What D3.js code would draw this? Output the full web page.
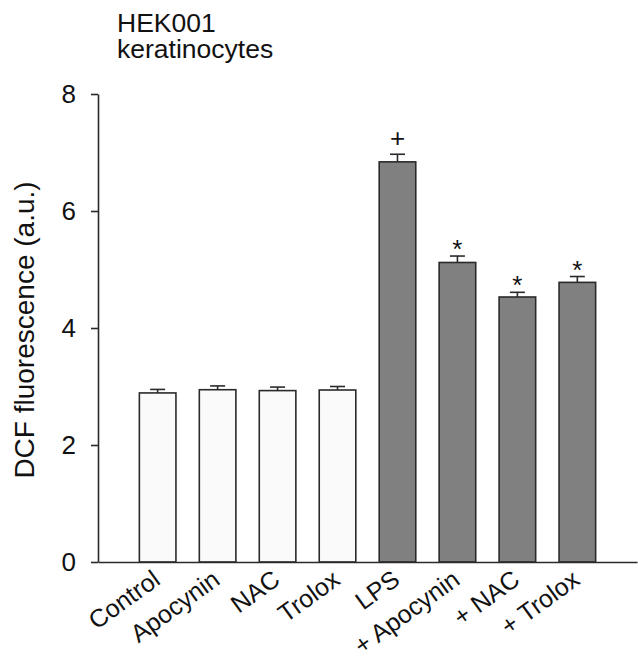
<!DOCTYPE html>
<html>
<head>
<meta charset="utf-8">
<script src="https://cdn.jsdelivr.net/npm/d3@7"></script>
<style>
  body { margin: 0; background: #fff; }
  text { font-family: "Liberation Sans", Arial, sans-serif; }
</style>
</head>
<body>
<div id="chart"></div>
<script>
// data
var categories = ["Control", "Apocynin", "NAC", "Trolox", "LPS", "+ Apocynin", "+ NAC", "+ Trolox"];
var means = [2.89, 2.945, 2.93, 2.94, 6.84, 5.12, 4.53, 4.78];
var errors = [0.06, 0.065, 0.06, 0.06, 0.13, 0.11, 0.08, 0.10];
var marks = ["", "", "", "", "+", "*", "*", "*"];
var groups = ["none", "none", "none", "none", "lps", "lps", "lps", "lps"];
var yTicks = [0, 2, 4, 6, 8];
var titleLines = ["HEK001", "keratinocytes"];

var width = 638, height = 661;
var fills = { none: "#fafafa", lps: "#808080" };
var ink = "#2a2a2a";

var svg = d3.select("#chart").append("svg")
  .attr("width", width)
  .attr("height", height);

var x = d3.scaleBand()
  .domain(categories)
  .range([98, 637])
  .paddingInner(0.39)
  .paddingOuter(0.69);

var y = d3.scaleLinear()
  .domain([0, 8])
  .range([562, 94]);

// title
svg.append("text")
  .attr("x", 117)
  .attr("y", 32)
  .attr("font-size", 26.5)
  .attr("fill", "#111")
  .selectAll("tspan")
  .data(titleLines)
  .enter().append("tspan")
  .attr("x", 117)
  .attr("dy", function(d, i) { return i == 0 ? 0 : 26; })
  .text(function(d) { return d; });

// bars
svg.append("g").selectAll("rect")
  .data(categories)
  .enter().append("rect")
  .attr("x", function(d) { return x(d); })
  .attr("y", function(d, i) { return y(means[i]); })
  .attr("width", x.bandwidth())
  .attr("height", function(d, i) { return y(0) - y(means[i]); })
  .attr("fill", function(d, i) { return fills[groups[i]]; })
  .attr("stroke", ink)
  .attr("stroke-width", 1.6);

// error bars (upper only)
var err = svg.append("g")
  .attr("stroke", ink)
  .attr("stroke-width", 1.6);
categories.forEach(function(c, i) {
  var cx = x(c) + x.bandwidth() / 2;
  err.append("line")
    .attr("x1", cx).attr("x2", cx)
    .attr("y1", y(means[i])).attr("y2", y(means[i] + errors[i]));
  err.append("line")
    .attr("x1", cx - 7.5).attr("x2", cx + 7.5)
    .attr("y1", y(means[i] + errors[i])).attr("y2", y(means[i] + errors[i]));
});

// significance marks
svg.append("g").selectAll("text")
  .data(categories)
  .enter().append("text")
  .attr("x", function(d) { return x(d) + x.bandwidth() / 2; })
  .attr("y", function(d, i) {
    var top = y(means[i] + errors[i]);
    return marks[i] == "+" ? top - 7 : top + 2;
  })
  .attr("text-anchor", "middle")
  .attr("font-size", 26)
  .attr("fill", "#111")
  .text(function(d, i) { return marks[i]; });

// y axis
var yAxis = svg.append("g")
  .attr("transform", "translate(98,0)")
  .call(d3.axisLeft(y).tickValues(yTicks).tickSize(7).tickSizeOuter(0).tickPadding(15)
    .tickFormat(d3.format("d")));
yAxis.select(".domain").attr("stroke", ink).attr("stroke-width", 1.6);
yAxis.selectAll(".tick line").attr("stroke", ink).attr("stroke-width", 1.6);
yAxis.selectAll(".tick text")
  .attr("font-size", 26)
  .attr("font-family", "Liberation Sans, Arial, sans-serif")
  .attr("fill", "#111");

// x baseline and category labels
var xAxis = svg.append("g")
  .attr("transform", "translate(0," + y(0) + ")")
  .call(d3.axisBottom(x).tickSize(0).tickSizeOuter(0).tickPadding(0));
xAxis.select(".domain").attr("stroke", ink).attr("stroke-width", 1.6);
xAxis.selectAll(".tick text")
  .attr("font-size", 25)
  .attr("font-family", "Liberation Sans, Arial, sans-serif")
  .attr("fill", "#111")
  .attr("text-anchor", "end")
  .attr("dy", 0)
  .attr("y", 0)
  .attr("transform", "translate(4,21) rotate(-36)");

// y label
svg.append("text")
  .attr("transform", "translate(34,330) rotate(-90)")
  .attr("text-anchor", "middle")
  .attr("font-size", 28)
  .attr("fill", "#111")
  .text("DCF fluorescence (a.u.)");
</script>
</body>
</html>
